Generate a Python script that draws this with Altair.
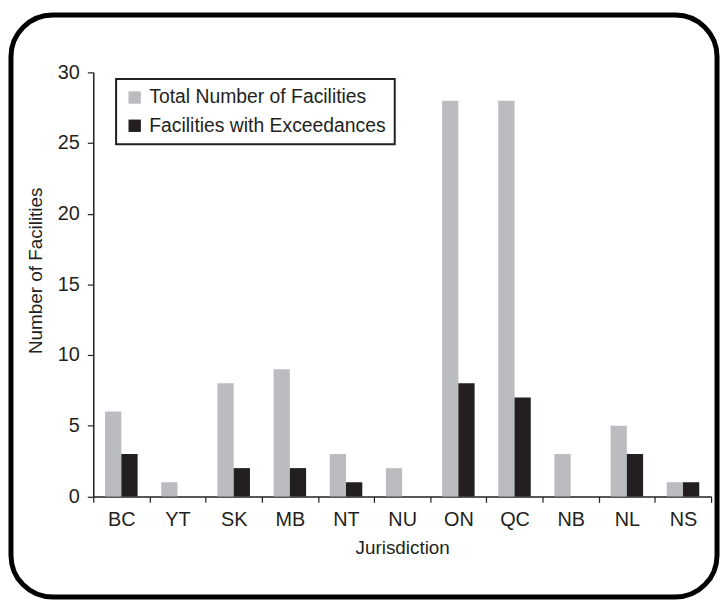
import altair as alt
import pandas as pd

jurisdictions = ["BC", "YT", "SK", "MB", "NT", "NU", "ON", "QC", "NB", "NL", "NS"]
total_facilities = [6, 1, 8, 9, 3, 2, 28, 28, 3, 5, 1]
facilities_exceed = [3, 0, 2, 2, 1, 0, 8, 7, 0, 3, 1]
series_names = ["Total Number of Facilities", "Facilities with Exceedances"]
series_colors = ["#BBBCC0", "#231F20"]
y_ticks = [0, 5, 10, 15, 20, 25, 30]

rows = []
for j, t, e in zip(jurisdictions, total_facilities, facilities_exceed):
    rows.append({"Jurisdiction": j, "Series": series_names[0], "Value": t})
    rows.append({"Jurisdiction": j, "Series": series_names[1], "Value": e})
df = pd.DataFrame(rows)

TICK_FONT = "Liberation Sans, Arial, Helvetica, sans-serif"
TEXT_FONT = "Liberation Sans, Arial, Helvetica, sans-serif"
INK = "#231F20"

W, H = 623, 427.6
SVG_H = 594

bars = alt.Chart(df).mark_bar().encode(
    x=alt.X(
        "Jurisdiction:N",
        sort=jurisdictions,
        scale=alt.Scale(paddingInner=0, paddingOuter=0),
        axis=alt.Axis(
            title="Jurisdiction",
            labelAngle=0,
            tickBand="extent",
            tickSize=6,
            labelPadding=7,
            labelFont=TICK_FONT,
            labelFontSize=20,
            labelColor=INK,
            titleFont=TEXT_FONT,
            titleFontSize=19,
            titleFontWeight="normal",
            titleColor=INK,
            titlePadding=10,
            domainColor=INK,
            domainWidth=1.5,
            tickColor=INK,
            tickWidth=1.2,
            grid=False,
        ),
    ),
    xOffset=alt.XOffset(
        "Series:N",
        sort=series_names,
        scale=alt.Scale(paddingInner=0, paddingOuter=0.727),
    ),
    y=alt.Y(
        "Value:Q",
        scale=alt.Scale(domain=[0, 30], nice=False),
        axis=alt.Axis(
            title="Number of Facilities",
            values=y_ticks,
            tickSize=6,
            labelPadding=8,
            labelFont=TICK_FONT,
            labelFontSize=20,
            labelColor=INK,
            titleFont=TEXT_FONT,
            titleFontSize=19,
            titleFontWeight="normal",
            titleColor=INK,
            titlePadding=12,
            titleY=199.6,
            domainColor=INK,
            domainWidth=1.5,
            tickColor=INK,
            tickWidth=1.2,
            grid=False,
        ),
    ),
    color=alt.Color(
        "Series:N",
        sort=series_names,
        scale=alt.Scale(domain=series_names, range=series_colors),
        legend=alt.Legend(
            title=None,
            orient="none",
            legendX=23,
            legendY=6.6,
            symbolType="square",
            symbolSize=156,
            symbolStrokeWidth=0,
            symbolOffset=0,
            labelFont=TEXT_FONT,
            labelFontSize=19.5,
            labelColor=INK,
            labelOffset=5,
            labelLimit=500,
            rowPadding=7.5,
            padding=9,
            strokeColor=INK,
            fillColor="white",
        ),
    ),
)

frame = alt.Chart(pd.DataFrame({"k": [0]})).mark_rect(
    fill=None, stroke="black", strokeWidth=5, cornerRadius=42
).encode(
    x=alt.value(-83),
    x2=alt.value(629),
    y=alt.value(-57.9),
    y2=alt.value(SVG_H - 62.4 - 2.5),
)

chart = alt.layer(bars, frame).properties(
    width=W,
    height=H,
    autosize=alt.AutoSizeParams(type="none"),
    padding={"left": 86, "top": 62.4, "right": 9, "bottom": SVG_H - 62.4 - H},
).configure_view(stroke=None).configure_legend(strokeWidth=2)

chart.save("out.html", embed_options={"renderer": "svg", "actions": False})
